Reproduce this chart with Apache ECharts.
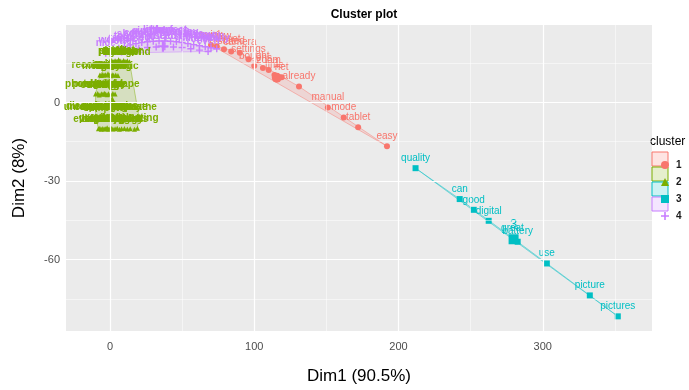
<!DOCTYPE html>
<html>
<head>
<meta charset="utf-8">
<script src="https://cdn.jsdelivr.net/npm/echarts@6/dist/echarts.min.js"></script>
<style>
  html, body { margin: 0; padding: 0; background: #fff; }
  #main { width: 689px; height: 390px; }
</style>
</head>
<body>
<div id="main"></div>
<script>
// axis ticks
var xTicks = [0, 100, 200, 300];
var xMinor = [50, 150, 250, 350];
var yTicks = [0, -30, -60];
var yMinor = [15, -15, -45, -75];

// cluster 1 (red)
var words1 = ["quick", "review", "internet", "stated", "camera", "settings", "bought", "lens", "zoom", "time", "net", "already", "manual", "mode", "tablet", "easy"];
var x1 = [70, 74, 79, 84, 90, 96, 100, 106, 110, 114, 119, 131, 151, 162, 172, 192];
var y1 = [22, 21.5, 20.3, 19.5, 19, 16.5, 14, 13.2, 12.4, 10.5, 9.6, 6.1, -1.9, -5.7, -9.5, -16.7];

// cluster 2 (green), five rows
var words2 = [
  "price", "small", "light", "photos", "taken", "pocket", "size", "screen", "sharp", "weight", "indoor", "weekend",
  "recommend", "memory", "card", "video", "menu", "colors", "images", "optical", "night", "lighting", "slow", "fantastic",
  "photography", "purchased", "outdoor", "shutter", "setting", "review", "auto", "flash", "bright", "image", "scene", "landscape",
  "unfortunately", "disappointed", "compared", "resolution", "features", "software", "download", "computer", "charger", "problem",
  "button", "display", "lcd", "case", "strap", "lenses", "focus", "delay", "movie", "breathe",
  "everything", "previous", "different", "beginner", "family", "vacation", "quickly", "holiday", "amazing", "canon",
  "nikon", "sony", "kodak", "reading", "everyday", "model", "photo", "print", "prints", "shooting"
];
var x2 = [
  0, 1.2, 2.5, 3.5, 4.8, 6, 7, 8.3, 9.5, 10.5, 12, 13.5,
  -7, -6, -5, -4, -3, -1.4, -0.5, 0.5, 1.5, 2.5, 4, 5.5,
  -10, -8.5, -7.5, -6, -5, -4, -3, -2, -1, 0.5, 2, 3.5,
  -10, -9, -8, -7, -6, -5, -4, -3, -2, -1, 0, 1.5, 3, 4.5, 6, 8, 10, 13, 16, 20,
  -8, -7, -6, -5, -4, -3, -2, -1, 0, 1, 2, 3.5, 5, 6.5, 8, 10, 12, 14, 17, 19
];
var y2 = [
  15.8, 16, 15.6, 15.9, 15.7, 16.3, 15.8, 15.5, 16, 15.7, 15.9, 15.6,
  10.5, 10.3, 10.7, 10.4, 10.6, 11, 10.5, 10.2, 10.6, 10.4, 10.5, 10.3,
  3.2, 3.4, 2.9, 3.3, 3.1, 3.5, 3.2, 3, 3.3, 3.1, 3.4, 3.2,
  -5.4, -5.2, -5.6, -5.3, -5.5, -5.1, -5.4, -5.7, -5.3, -5.5, -5.2, -5.4, -5.6, -5.3, -5.5, -5.4, -5.2, -5.6, -5.4, -5.3,
  -10, -9.8, -10.2, -9.9, -10.1, -10, -9.7, -10.2, -10, -9.9, -10.1, -10, -9.8, -10.2, -10, -9.9, -10.1, -10, -10.2, -9.8
];

// cluster 3 (cyan)
var words3 = ["quality", "can", "good", "digital", "great", "battery", "use", "picture", "pictures"];
var x3 = [211.8, 242.4, 252.1, 262.5, 279, 282.6, 302.8, 332.6, 352];
var y3 = [-25.1, -36.9, -41, -45.2, -52, -53.2, -61.5, -73.7, -81.7];

// cluster 4 (purple)
var words4 = [
  "nice", "works", "take", "took", "shots", "color", "auto", "simple", "little", "cheap",
  "buy", "perfect", "worth", "money", "sure", "love", "happy", "best", "well", "really",
  "better", "much", "used", "lot", "also", "need", "just", "get", "like", "one", "even"
];
var x4 = [
  -3, 2, 6, 10, 14, 18, 22, 26, 30, 34, 38, 42, 46, 50, 54, 58, 62, 66, 70, 74,
  8, 14, 20, 26, 32, 38, 44, 50, 56, 62, 68
];
var y4 = [
  18.8, 19.8, 20.7, 21.4, 22, 22.5, 22.9, 23.2, 23.4, 23.5, 23.5, 23.4, 23.2, 22.9, 22.5, 22.1, 21.7, 21.3, 20.9, 20.5,
  19.3, 20, 20.6, 21, 21.2, 21.3, 21.2, 21, 20.5, 20, 19.5
];

var colors = ['#F8766D', '#7CAE00', '#00BFC4', '#C77CFF'];
var fills = ['rgba(248,118,109,0.2)', 'rgba(124,174,0,0.2)', 'rgba(0,191,196,0.2)', 'rgba(199,124,255,0.2)'];
var plusIcon = 'path://M4,0H6V4H10V6H6V10H4V6H0V4H4Z';
var symbols = ['circle', 'triangle', 'rect', plusIcon];
var sizes = [6, 5, 6, 7];
var weights = ['normal', 'bold', 'normal', 'bold'];
var clusters = [[words1, x1, y1], [words2, x2, y2], [words3, x3, y3], [words4, x4, y4]];

function hull(p) {
    p = p.slice().sort(function (a, b) { return a[0] - b[0] || a[1] - b[1]; });
    var cross = function (o, a, b) { return (a[0] - o[0]) * (b[1] - o[1]) - (a[1] - o[1]) * (b[0] - o[0]); };
    var lo = [], up = [];
    for (var i = 0; i < p.length; i++) {
        while (lo.length >= 2 && cross(lo[lo.length - 2], lo[lo.length - 1], p[i]) <= 0) lo.pop();
        lo.push(p[i]);
    }
    for (var j = p.length - 1; j >= 0; j--) {
        while (up.length >= 2 && cross(up[up.length - 2], up[up.length - 1], p[j]) <= 0) up.pop();
        up.push(p[j]);
    }
    lo.pop(); up.pop();
    return lo.concat(up);
}

var series = [];

// panel grid lines
var gl = function (v, key, w) {
    var d = { lineStyle: { color: '#fff', width: w, type: 'solid' } };
    d[key] = v;
    return d;
};
series.push({
    type: 'scatter', name: 'grid', data: [], z: 1, silent: true,
    markLine: {
        silent: true, symbol: ['none', 'none'], label: { show: false },
        emphasis: { disabled: true }, animation: false,
        data: xTicks.map(function (v) { return gl(v, 'xAxis', 1.2); })
            .concat(xMinor.map(function (v) { return gl(v, 'xAxis', 0.5); }))
            .concat(yTicks.map(function (v) { return gl(v, 'yAxis', 1.2); }))
            .concat(yMinor.map(function (v) { return gl(v, 'yAxis', 0.5); }))
    }
});

// convex hull of each cluster
clusters.forEach(function (c, k) {
    var pts = c[1].map(function (x, i) { return [x, c[2][i]]; });
    var h = hull(pts);
    series.push({
        type: 'custom', name: 'hull' + (k + 1), z: 2, silent: true, data: [0],
        renderItem: function (params, api) {
            return {
                type: 'polygon',
                shape: { points: h.map(function (p) { return api.coord(p); }) },
                style: { fill: fills[k], stroke: colors[k], lineWidth: 0.5, opacity: 0.9 }
            };
        }
    });
});

// points + labels + centre
clusters.forEach(function (c, k) {
    var data = c[0].map(function (w, i) { return { value: [c[1][i], c[2][i]], name: w }; });
    var cx = 0, cy = 0;
    c[1].forEach(function (v, i) { cx += v; cy += c[2][i]; });
    cx /= c[1].length; cy /= c[1].length;
    data.push({
        value: [cx, cy], name: String(k + 1), symbolSize: k === 3 ? 11 : 10,
        label: { fontSize: 13, distance: 3, fontWeight: 'normal' }
    });
    series.push({
        type: 'scatter', name: String(k + 1), z: 3,
        symbol: symbols[k], symbolSize: sizes[k],
        itemStyle: { color: colors[k], opacity: 1 },
        label: {
            show: true, position: 'top', distance: 2, formatter: '{b}',
            color: colors[k], fontSize: 10, fontWeight: weights[k], fontFamily: 'Liberation Sans'
        },
        labelLayout: { hideOverlap: false },
        emphasis: { disabled: true },
        data: data
    });
});

var legendTop = 155;
var graphics = [{
    type: 'text', left: 650, top: 136,
    style: { text: 'cluster', font: '12px Liberation Sans', fill: '#000' }
}];
for (var k = 0; k < 4; k++) {
    graphics.push({
        type: 'rect', z: 3, silent: true,
        shape: { x: 652, y: legendTop - 3 + k * 15, width: 16, height: 14 },
        style: { fill: fills[k], stroke: colors[k], lineWidth: 1 }
    });
}

var myChart = echarts.init(document.getElementById('main'));
var option = {
    backgroundColor: '#fff',
    animation: false,
    title: {
        text: 'Cluster plot', left: 359, top: 4, textAlign: 'center',
        textStyle: { fontSize: 12, fontWeight: 'bold', color: '#000', fontFamily: 'Liberation Sans' }
    },
    grid: {
        left: 66, right: 37, top: 25, bottom: 57,
        show: true, backgroundColor: '#EBEBEB', borderWidth: 0
    },
    legend: {
        orient: 'vertical', left: 656, top: legendTop, itemWidth: 8, itemHeight: 8, itemGap: 7,
        selectedMode: false, z: 5,
        textStyle: { fontSize: 10, fontWeight: 'bold', color: '#1a1a1a', fontFamily: 'Liberation Sans', padding: [0, 0, 0, 2] },
        data: ['1', '2', '3', '4'].map(function (n, i) { return { name: n, icon: symbols[i] }; })
    },
    xAxis: {
        type: 'value', min: -30.5, max: 375.7,
        name: 'Dim1 (90.5%)', nameLocation: 'middle', nameGap: 37,
        nameTextStyle: { fontSize: 17, color: '#000', fontFamily: 'Liberation Sans' },
        axisLine: { show: false },
        axisTick: { show: true, customValues: xTicks, length: 3, lineStyle: { color: '#333' } },
        axisLabel: { customValues: xTicks, color: '#4D4D4D', fontSize: 11, margin: 10, fontFamily: 'Liberation Sans' },
        splitLine: { show: false }
    },
    yAxis: {
        type: 'value', min: -87.3, max: 29.6,
        name: 'Dim2 (8%)', nameLocation: 'middle', nameGap: 38,
        nameTextStyle: { fontSize: 17, color: '#000', fontFamily: 'Liberation Sans' },
        axisLine: { show: false },
        axisTick: { show: true, customValues: yTicks, length: 3, lineStyle: { color: '#333' } },
        axisLabel: { customValues: yTicks, color: '#4D4D4D', fontSize: 11, margin: 6, fontFamily: 'Liberation Sans' },
        splitLine: { show: false }
    },
    graphic: graphics,
    series: series
};
myChart.setOption(option);
</script>
</body>
</html>
